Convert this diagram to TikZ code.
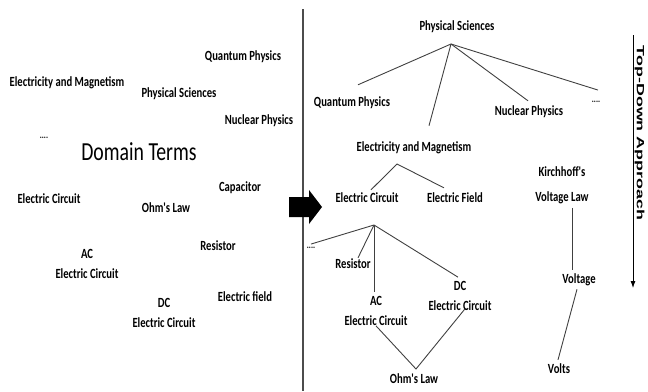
\documentclass[tikz,border=0pt]{standalone}
\usepackage{fontspec}
\usetikzlibrary{arrows.meta}
\newfontfamily\labfont[FakeStretch=0.76]{Carlito}
\newfontfamily\sidefont[FakeStretch=1.7]{Liberation Sans}
\tikzset{
    term/.style={font=\labfont\bfseries\fontsize{14}{20}\selectfont, inner sep=1pt, align=center},
    dotsterm/.style={font=\labfont\bfseries\fontsize{10}{10}\selectfont, inner sep=1pt},
    branch/.style={line width=0.9pt, draw=black!75},
}
\begin{document}
\begin{tikzpicture}[x=1pt,y=-1pt]
            \useasboundingbox (0,0) rectangle (648,391);
            % left half: loose terms
            \begin{scope}
                \node[term] (qpL) at (243,57) {Quantum Physics};
                \node[term] (emL) at (67,83) {Electricity and Magnetism};
                \node[term] (psL) at (179,94) {Physical Sciences};
                \node[term] (npL) at (259,121) {Nuclear Physics};
                \node[dotsterm] (dotsL) at (44,138) {....};
                \node[font=\labfont\fontsize{26}{26}\selectfont] (dt) at (139,152) {Domain Terms};
                \node[term] (capL) at (240,188) {Capacitor};
                \node[term] (ecL) at (49,199) {Electric Circuit};
                \node[term] (ohmL) at (166,208) {Ohm's Law};
                \node[term] (resL) at (218,246) {Resistor};
                \node[term] (acL) at (87,264) {AC\\Electric Circuit};
                \node[term] (efL) at (245,297) {Electric field};
                \node[term] (dcL) at (164,313) {DC\\Electric Circuit};
            \end{scope}
            \draw[line width=1.3pt, draw=black!70] (303,9) -- (303,391);
            \fill[black] (289,197) -- (309,197) -- (309,190) -- (322,207)
                -- (309,224) -- (309,217) -- (289,217) -- cycle;
            % right half: the tree
            \begin{scope}
                \node[term] (ps) at (457,27) {Physical Sciences};
                \node[term] (qp) at (352,103) {Quantum Physics};
                \node[term] (np) at (529,112) {Nuclear Physics};
                \node[dotsterm] (dotsR) at (596,102) {....};
                \node[term] (em) at (414,148) {Electricity and Magnetism};
                \node[term] (ec) at (367,198) {Electric Circuit};
                \node[term] (ef) at (455,198) {Electric Field};
                \node[term, font=\labfont\bfseries\fontsize{14}{25}\selectfont] (kvl) at (562,185) {Kirchhoff's\\Voltage Law};
                \node[dotsterm] (dotsEC) at (311,248) {....};
                \node[term] (res) at (353,264) {Resistor};
                \node[term] (ac) at (376,311) {AC\\Electric Circuit};
                \node[term] (dc) at (460,296) {DC\\Electric Circuit};
                \node[term] (ohm) at (414,379) {Ohm's Law};
                \node[term] (volt) at (579,280) {Voltage};
                \node[term] (volts) at (559,369) {Volts};

                \coordinate (psroot) at (451,44);
                \coordinate (emroot) at (397,164);
                \coordinate (ecroot) at (374,225);
                \coordinate (ohmtop) at (416,369);

                \draw[branch] (psroot) -- ([shift={(6,-11)}]qp.north);
                \draw[branch] (psroot) -- ([shift={(15,-15)}]em.north);
                \draw[branch] (psroot) -- ([shift={(-1,-4)}]np.north);
                \draw[branch] (psroot) -- ([shift={(2,-10)}]dotsR.north);
                \draw[branch] (emroot) -- ([shift={(4,-2)}]ec.north);
                \draw[branch] (emroot) -- ([shift={(-11,-4)}]ef.north);
                \draw[branch] (ecroot) -- ([shift={(0,-2)}]dotsEC.north);
                \draw[branch] (ecroot) -- ([shift={(5,0)}]res.north);
                \draw[branch] (ecroot) -- ([shift={(-2,-3)}]ac.north);
                \draw[branch] (ecroot) -- ([shift={(-2,-3)}]dc.north);
                \draw[branch] ([shift={(0,-1)}]ac.south) -- (ohmtop) -- ([shift={(5,-3)}]dc.south);
                \draw[branch] ([shift={(10,3)}]kvl.south) -- ([shift={(-7,-3)}]volt.north);
                \draw[branch] ([shift={(-2,2)}]volt.south) -- ([shift={(-1,-3)}]volts.north);
            \end{scope}
            \coordinate (tdtop) at (633,35);
            \coordinate (tdend) at (633,288);
            \draw[line width=0.8pt, -{Latex[length=7pt,width=5pt]}] (tdtop) -- (tdend);
            \node[font=\sidefont\bfseries\fontsize{10.5}{10.5}\selectfont, rotate=-90, anchor=north] (td) at (648,133) {Top-Down Approach};
        \end{tikzpicture}
\end{document}
